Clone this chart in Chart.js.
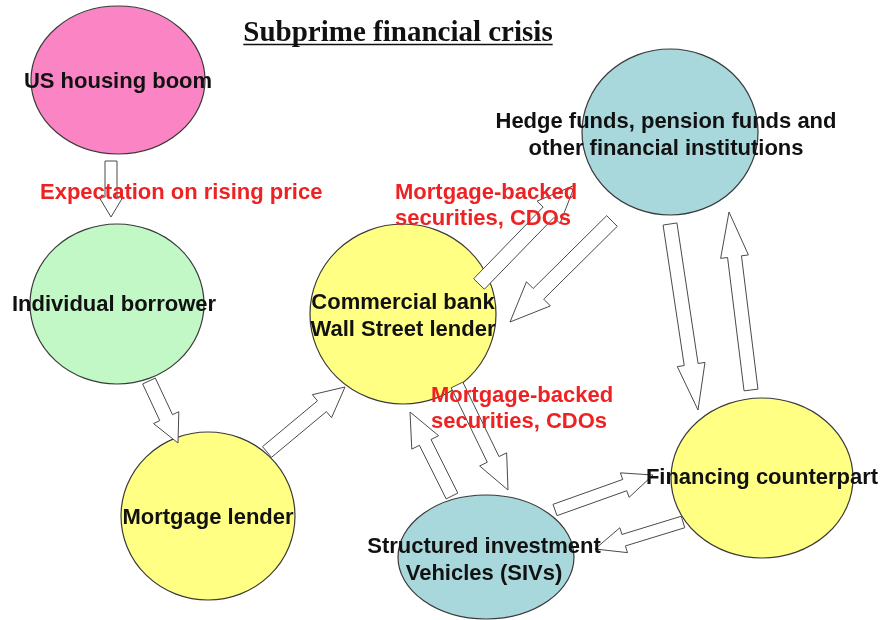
<!DOCTYPE html>
<html lang="en">
<head>
    <meta charset="UTF-8">
    <title>Subprime financial crisis</title>
    <script src="https://cdn.jsdelivr.net/npm/chart.js"></script>
    <style>
        body {
            margin: 0;
            background: #ffffff;
        }
        #wrap {
            width: 881px;
            height: 620px;
        }
    </style>
</head>
<body>
    <div id="wrap"><canvas id="flow" width="881" height="620"></canvas></div>

    <script>
        // nodes of the diagram (centre and radii in diagram units, 1 unit = 1 px)
        const nodeNames = [
            'US housing boom',
            'Individual borrower',
            'Mortgage lender',
            'Commercial bank\nWall Street lender',
            'Hedge funds, pension funds and\nother financial institutions',
            'Financing counterpart',
            'Structured investment\nVehicles (SIVs)'
        ];
        const nodeX = [118, 117, 208, 403, 670, 762, 486];
        const nodeY = [80, 304, 516, 314, 132, 478, 557];
        const nodeRX = [87, 87, 87, 93, 88, 91, 88];
        const nodeRY = [74, 80, 84, 90, 83, 80, 62];
        const labelX = [118, 114, 208, 403, 666, 762, 484];
        const labelY = [82, 305, 518, 316, 135, 478, 560];

        // arrows: tail point -> tip point
        const arrowFromX = [111, 149, 267, 479, 612, 670, 751, 457, 452, 555, 683];
        const arrowFromY = [161, 381, 452, 284, 221, 224, 390, 385, 496, 510, 522];
        const arrowToX   = [111, 178, 345, 575, 510, 698, 729, 508, 410, 653, 595];
        const arrowToY   = [217, 443, 387, 185, 322, 410, 212, 490, 412, 475, 549];

        // red annotations
        const noteText = [
            'Expectation on rising price',
            'Mortgage-backed\nsecurities, CDOs',
            'Mortgage-backed\nsecurities, CDOs'
        ];
        const noteX = [40, 395, 431];
        const noteY = [193, 193, 396];

        const titleText = 'Subprime financial crisis';

        // styles
        const nodeColors = ['#fb84c4', '#c2f7c6', '#ffff84', '#ffff84', '#a8d7dc', '#ffff84', '#a8d7dc'];
        const headLen = [20, 28, 30, 38, 40, 46, 45, 34, 34, 30, 30];
        const headHalf = [12, 14, 15, 16, 17, 14, 14, 15, 15, 13, 13];
        const shaftHalf = [6, 7, 7, 7.5, 7.5, 7, 7, 6.5, 6.5, 6, 6];
        const noteMaxW = [null, 184, 184];

        const diagramPlugin = {
            id: 'diagram',
            afterDatasetsDraw(chart) {
                const ctx = chart.ctx;
                const xs = chart.scales.x;
                const ys = chart.scales.y;
                const px = v => xs.getPixelForValue(v);
                const py = v => ys.getPixelForValue(v);

                ctx.save();

                // ellipses
                nodeX.forEach((x, i) => {
                    const cx = px(x), cy = py(nodeY[i]);
                    const rx = Math.abs(px(x + nodeRX[i]) - cx);
                    const ry = Math.abs(py(nodeY[i] + nodeRY[i]) - cy);
                    ctx.beginPath();
                    ctx.ellipse(cx, cy, rx, ry, 0, 0, Math.PI * 2);
                    ctx.fillStyle = nodeColors[i];
                    ctx.fill();
                    ctx.lineWidth = 1.2;
                    ctx.strokeStyle = '#3a3a3a';
                    ctx.stroke();
                });

                // block arrows
                arrowFromX.forEach((fx, i) => {
                    const tx = px(fx), ty = py(arrowFromY[i]);
                    const hx = px(arrowToX[i]), hy = py(arrowToY[i]);
                    const len = Math.hypot(hx - tx, hy - ty);
                    const ux = (hx - tx) / len, uy = (hy - ty) / len;
                    const nx = -uy, ny = ux;
                    const bx = hx - ux * headLen[i], by = hy - uy * headLen[i];
                    const w = shaftHalf[i], hw = headHalf[i];
                    ctx.beginPath();
                    ctx.moveTo(tx + nx * w, ty + ny * w);
                    ctx.lineTo(bx + nx * w, by + ny * w);
                    ctx.lineTo(bx + nx * hw, by + ny * hw);
                    ctx.lineTo(hx, hy);
                    ctx.lineTo(bx - nx * hw, by - ny * hw);
                    ctx.lineTo(bx - nx * w, by - ny * w);
                    ctx.lineTo(tx - nx * w, ty - ny * w);
                    ctx.closePath();
                    ctx.fillStyle = '#ffffff';
                    ctx.fill();
                    ctx.lineWidth = 1;
                    ctx.strokeStyle = '#4a4a4a';
                    ctx.stroke();
                });

                // node labels
                ctx.fillStyle = '#111111';
                ctx.font = 'bold 22px "Liberation Sans", Arial, sans-serif';
                ctx.textAlign = 'center';
                ctx.textBaseline = 'middle';
                nodeNames.forEach((name, i) => {
                    const lines = name.split('\n');
                    const x = px(labelX[i]);
                    const y0 = py(labelY[i]) - (lines.length - 1) * 13.5;
                    lines.forEach((ln, k) => ctx.fillText(ln, x, y0 + k * 27));
                });

                // red notes
                ctx.fillStyle = '#ee2222';
                ctx.textAlign = 'left';
                noteText.forEach((t, i) => {
                    t.split('\n').forEach((ln, k) => {
                        const x = px(noteX[i]), y = py(noteY[i]) + k * 26;
                        if (noteMaxW[i]) ctx.fillText(ln, x, y, noteMaxW[i]);
                        else ctx.fillText(ln, x, y);
                    });
                });

                // title with underline
                ctx.fillStyle = '#111111';
                ctx.font = 'bold 29px "Liberation Serif", "Times New Roman", serif';
                ctx.textAlign = 'center';
                ctx.textBaseline = 'alphabetic';
                const tcx = px(398), tcy = py(41);
                ctx.fillText(titleText, tcx, tcy);
                const tw = ctx.measureText(titleText).width;
                ctx.beginPath();
                ctx.moveTo(tcx - tw / 2, tcy + 3.5);
                ctx.lineTo(tcx + tw / 2, tcy + 3.5);
                ctx.lineWidth = 1.6;
                ctx.strokeStyle = '#111111';
                ctx.stroke();

                ctx.restore();
            }
        };

        const ctx = document.getElementById('flow').getContext('2d');
        const chart = new Chart(ctx, {
            type: 'scatter',
            data: {
                datasets: [{
                    label: 'nodes',
                    data: nodeX.map((x, i) => ({ x: x, y: nodeY[i] })),
                    pointRadius: 0,
                    pointHoverRadius: 0
                }]
            },
            options: {
                responsive: false,
                animation: false,
                layout: { padding: 0 },
                plugins: {
                    legend: { display: false },
                    tooltip: { enabled: false },
                    title: { display: false }
                },
                scales: {
                    x: { type: 'linear', min: 0, max: 881, display: false },
                    y: { type: 'linear', min: 0, max: 620, reverse: true, display: false }
                }
            },
            plugins: [diagramPlugin]
        });
    </script>
</body>
</html>
